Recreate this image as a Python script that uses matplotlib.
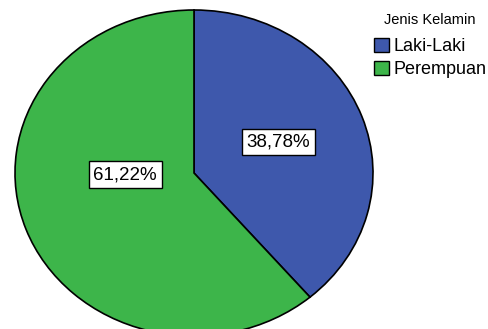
import matplotlib
matplotlib.use("Agg")
import matplotlib.pyplot as plt
from matplotlib.patches import Patch

# Data
categories = ["Laki-Laki", "Perempuan"]
percentages = [38.78, 61.22]
colors = ["#3E58AC", "#3DB54A"]
legend_title = "Jenis Kelamin"

plt.rcParams["font.family"] = ["Liberation Sans", "DejaVu Sans"]

W, H = 489, 329
fig = plt.figure(figsize=(W / 100, H / 100), dpi=100)
fig.patch.set_facecolor("white")

# Pie drawn into a stretched axes so it renders as an ellipse, partly cut at the bottom
left_px, right_px, top_px, bottom_px = 15, 373, 10, 336
ax = fig.add_axes([left_px / W, (H - bottom_px) / H,
                   (right_px - left_px) / W, (bottom_px - top_px) / H])

wedges, texts, autotexts = ax.pie(
    percentages,
    colors=colors,
    startangle=90,
    counterclock=False,
    autopct=lambda p: f"{p:.2f}%".replace(".", ","),
    pctdistance=0.5,
    wedgeprops=dict(edgecolor="black", linewidth=1.2),
    textprops=dict(fontsize=13.5, color="black"),
)
ax.set_aspect("auto")
ax.set_xlim(-1, 1)
ax.set_ylim(-1, 1)
ax.axis("off")
for w in wedges:
    w.set_clip_on(False)

# Label positions inside the slices
autotexts[0].set_position((0.47, 0.19))
autotexts[1].set_position((-0.385, -0.01))
for t in autotexts:
    t.set_bbox(dict(facecolor="white", edgecolor="black", linewidth=1.0,
                    boxstyle="square,pad=0.25"))

fig.text(430 / W, 1 - 20 / H, legend_title, ha="center", va="center",
         fontsize=10.5)

handles = [Patch(facecolor=c, edgecolor="black", linewidth=1.0) for c in colors]
leg = fig.legend(
    handles, categories,
    loc="upper left",
    bbox_to_anchor=(374 / W, 1 - 38 / H),
    frameon=False,
    fontsize=13,
    handlelength=0.85,
    handleheight=0.85,
    handletextpad=0.22,
    labelspacing=0.28,
    borderaxespad=0,
    borderpad=0,
)

fig.savefig("out.png", dpi=100, facecolor="white")
